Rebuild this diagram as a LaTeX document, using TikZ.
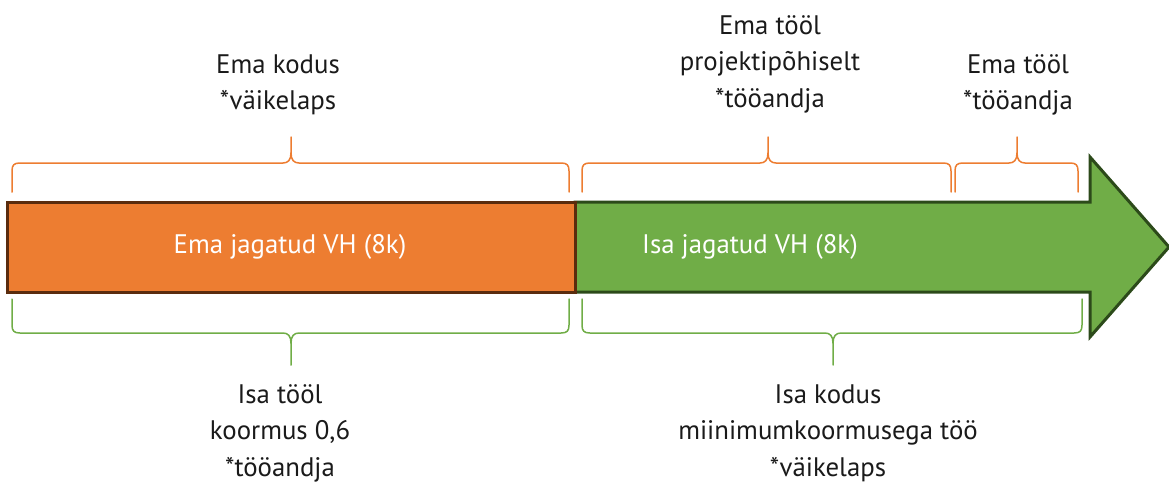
\documentclass[tikz,border=0pt]{standalone}
\usepackage{fontspec}
\setmainfont{PT Sans}
\definecolor{eorange}{HTML}{ED7D31}
\definecolor{egreen}{HTML}{70AD47}
\definecolor{eorangedark}{HTML}{5A2C0E}
\definecolor{egreendark}{HTML}{2C4A1A}
\definecolor{etext}{HTML}{1A1A1A}
\tikzset{
  bracestyle/.style={line width=1.5pt, line cap=round},
  lbl/.style={align=center, text=etext, font=\fontsize{26.8}{36.5}\selectfont, inner sep=0pt},
  barlbl/.style={text=white, font=\fontsize{26.8}{36.5}\selectfont, inner sep=0pt},
}
\newcommand\ebrace[8]{%
  \draw[bracestyle,#8] (#1,#4) -- (#1,{#5+8*(#7)}) .. controls (#1,{#5+2*(#7)}) and (#1+2,#5) .. (#1+8,#5)
     -- (#2-8,#5) .. controls (#2-3,#5) and (#2,{#5-3*(#7)}) .. (#2,{#5-10*(#7)}) -- (#2,#6);
  \draw[bracestyle,#8] (#2,{#5-10*(#7)}) .. controls (#2,{#5-3*(#7)}) and (#2+3,#5) .. (#2+8,#5)
     -- (#3-8,#5) .. controls (#3-2,#5) and (#3,{#5+2*(#7)}) .. (#3,{#5+8*(#7)}) -- (#3,#4);
}
\begin{document}
\begin{tikzpicture}[x=1pt,y=-1pt]
\useasboundingbox (0,0) rectangle (1169,485);
% green arrow
\draw[fill=egreen, draw=egreendark, line width=3pt, line join=miter]
  (575,202) -- (1090,202) -- (1090,157) -- (1169,247) -- (1090,337) -- (1090,292) -- (575,292) -- cycle;
\node[barlbl] (isavh) at (750,247) {Isa jagatud VH (8k)};
% orange bar
\draw[fill=eorange, draw=eorangedark, line width=3pt] (7,202) rectangle (575,292);
\node[barlbl] (emavh) at (290,247) {Ema jagatud VH (8k)};
% top braces
\ebrace{12}{291}{569}{192}{163}{137}{1}{eorange}
\ebrace{582}{768}{951}{192}{163}{137}{1}{eorange}
\ebrace{955}{1017}{1078}{192}{163}{137}{1}{eorange}
% bottom braces
\ebrace{12}{291}{569}{299}{333}{365}{-1}{egreen}
\ebrace{582}{833}{1082}{299}{333}{365}{-1}{egreen}
% labels
\node[lbl] (emakodus) at (278,85) {Ema kodus\\*väikelaps};
\node[lbl] (emaproj) at (770,64) {Ema tööl\\projektipõhiselt\\*tööandja};
\node[lbl] (ematool) at (1018,85) {Ema tööl\\*tööandja};
\node[lbl] (isatool) at (280,433) {Isa tööl\\koormus 0,6\\*tööandja};
\node[lbl] (isakodus) at (828,433) {Isa kodus\\miinimumkoormusega töö\\*väikelaps};
\end{tikzpicture}
\end{document}
